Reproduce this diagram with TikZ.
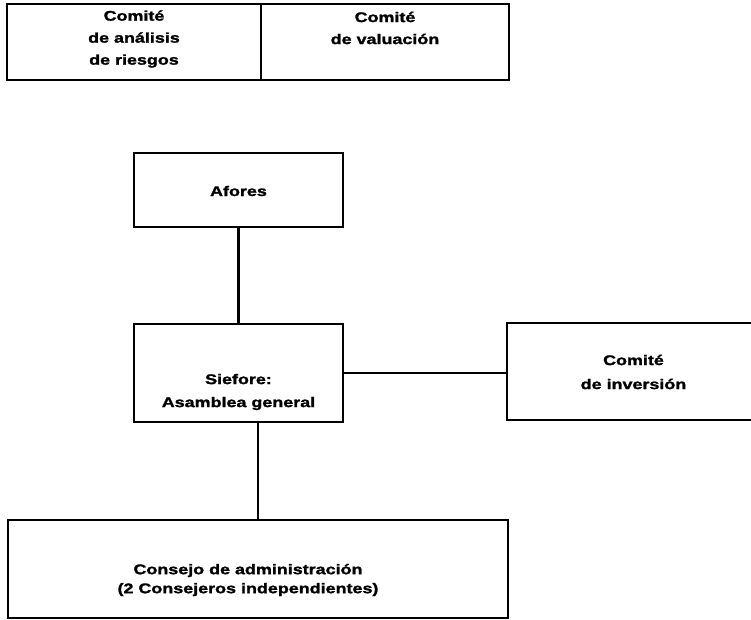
\documentclass[tikz,border=0pt]{standalone}
\usepackage{fontspec}
\newfontfamily\diagfont{Liberation Sans Bold}[FakeStretch=1.28, FakeBold=1.6]
\begin{document}
\begin{tikzpicture}[x=1pt,y=-1pt,
  box/.style={draw=black, line width=2.5pt, fill=none, inner sep=0pt, rectangle},
  lbl/.style={font=\diagfont\fontsize{14}{22}\selectfont, align=center, inner sep=0pt, text=black},
  link/.style={draw=black, line width=2.2pt}]
\clip (0,0) rectangle (751,619);
\fill[white] (0,0) rectangle (751,619);
% boxes
\node[box, minimum width=254pt, minimum height=76pt] (riesgos) at (134,42) {};
\node[box, minimum width=248pt, minimum height=76pt] (valuacion) at (385,42) {};
\node[box, minimum width=209pt, minimum height=74pt] (afores) at (238.5,190) {};
\node[box, minimum width=209pt, minimum height=98pt] (siefore) at (238.5,373) {};
\node[box, minimum width=253pt, minimum height=97pt] (inversion) at (633.5,371.5) {};
\node[box, minimum width=500pt, minimum height=98pt] (consejo) at (258,569) {};
% texts
\node[lbl] (triesgos) at (134,39) {Comité\\de análisis\\de riesgos};
\node[lbl] (tvaluacion) at (385,28) {Comité\\de valuación};
\node[lbl] (tafores) at (238.5,191) {Afores};
\node[lbl, font=\diagfont\fontsize{14}{23}\selectfont] (tsiefore) at (238.5,392) {Siefore:\\Asamblea general};
\node[lbl, font=\diagfont\fontsize{14}{24}\selectfont] (tinversion) at (633.5,372) {Comité\\de inversión};
\node[lbl, font=\diagfont\fontsize{14}{19}\selectfont] (tconsejo) at (248,580) {Consejo de administración\\(2 Consejeros independientes)};
% connectors
\draw[link] (afores.south) -- (siefore.north);
\draw[link] (siefore.east) -- (siefore.east -| inversion.west);
\draw[link] (siefore.south -| consejo.north) -- (consejo.north);
\end{tikzpicture}
\end{document}
